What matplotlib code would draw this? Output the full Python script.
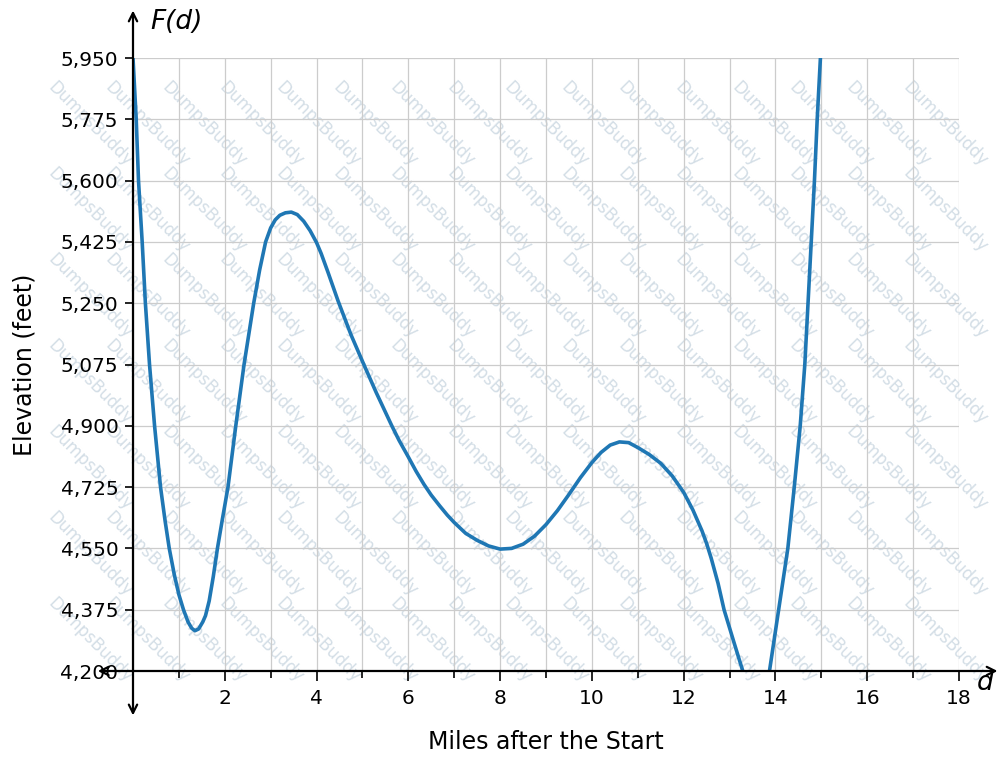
import matplotlib
matplotlib.use("Agg")
import matplotlib.pyplot as plt
from matplotlib.patches import FancyArrowPatch
from matplotlib.ticker import MultipleLocator, StrMethodFormatter

# miles after the start
miles = [0.0, 0.07, 0.12, 0.2, 0.27, 0.36, 0.47, 0.6, 0.7, 0.79, 0.9, 1.0,
         1.1, 1.2, 1.28, 1.35, 1.43, 1.52, 1.58, 1.66, 1.75, 1.84, 1.95, 2.07,
         2.24, 2.42, 2.63, 2.76, 2.89, 3.0, 3.1, 3.2, 3.32, 3.45, 3.58, 3.72,
         3.86, 4.0, 4.1, 4.25, 4.47, 4.75, 5.03, 5.3, 5.64, 5.8, 6.0, 6.17,
         6.34, 6.5, 6.68, 6.85, 7.0, 7.25, 7.5, 7.75, 8.0, 8.25, 8.5, 8.75,
         9.0, 9.25, 9.5, 9.75, 10.0, 10.2, 10.4, 10.6, 10.8, 11.0, 11.25, 11.5,
         11.75, 12.0, 12.2, 12.4, 12.5, 12.6, 12.75, 12.88, 13.1, 13.3, 13.45, 13.58,
         13.72, 13.87, 14.07, 14.27, 14.41, 14.54, 14.64, 14.71, 14.78, 14.85, 14.91, 14.98]
# elevation in feet at those points
elevation = [5950, 5775, 5600, 5425, 5250, 5075, 4900, 4725, 4628, 4550, 4475, 4418,
             4375, 4340, 4322, 4315, 4320, 4340, 4358, 4400, 4470, 4550, 4635, 4725,
             4900, 5075, 5250, 5345, 5425, 5465, 5488, 5501, 5508, 5510, 5503, 5484,
             5457, 5423, 5392, 5338, 5256, 5160, 5075, 4995, 4900, 4858, 4811, 4770,
             4733, 4702, 4672, 4645, 4624, 4593, 4573, 4557, 4548, 4550, 4562, 4585,
             4618, 4658, 4704, 4752, 4795, 4824, 4845, 4854, 4852, 4838, 4818, 4793,
             4757, 4710, 4660, 4600, 4564, 4522, 4450, 4375, 4280, 4195, 4145, 4125,
             4140, 4200, 4375, 4550, 4725, 4900, 5075, 5250, 5425, 5600, 5775, 5950]

x_ticks = [2, 4, 6, 8, 10, 12, 14, 16, 18]
y_ticks = [4200, 4375, 4550, 4725, 4900, 5075, 5250, 5425, 5600, 5775, 5950]

W, H = 1007, 761
WATERMARK = "DumpsBuddy"


def add_watermark(fig):
    # tiled diagonal watermark behind the plot, only copies that fit the canvas
    marks = []
    for i in range(-2, 19):
        for j in range(-1, 10):
            px = i * 57
            py = -8 + j * 86
            marks.append(fig.text(px / W, 1 - py / H, WATERMARK, fontsize=12,
                                  color="#c5d3de", rotation=-45, rotation_mode="anchor",
                                  ha="left", va="top", zorder=0.5, alpha=0.75))
    fig.canvas.draw()
    renderer = fig.canvas.get_renderer()
    for t in marks:
        bb = t.get_window_extent(renderer)
        if bb.x0 < 1 or bb.y0 < 1 or bb.x1 > W - 1 or bb.y1 > H - 1:
            t.remove()


def add_axis_arrows(ax):
    style = dict(arrowstyle="<->", mutation_scale=15, lw=1.6, color="black",
                 transform=ax.transAxes, clip_on=False, zorder=5)
    ax.add_patch(FancyArrowPatch((0, -0.077), (0, 1.082), **style))
    ax.add_patch(FancyArrowPatch((-0.046, 0), (1.05, 0), **style))


def main():
    fig = plt.figure(figsize=(W / 100, H / 100), dpi=100)
    ax = fig.add_axes([133 / W, 90 / H, 826 / W, 613 / H])
    ax.set_zorder(1)
    ax.patch.set_alpha(0)

    ax.plot(miles, elevation, color="#1f77b4", linewidth=2.6, zorder=3,
            solid_joinstyle="round")

    ax.set_xlim(0, 18)
    ax.set_ylim(4200, 5950)
    ax.set_xticks(x_ticks)
    ax.set_yticks(y_ticks)
    ax.xaxis.set_minor_locator(MultipleLocator(1))
    ax.yaxis.set_major_formatter(StrMethodFormatter("{x:,.0f}"))

    ax.tick_params(axis="x", which="major", length=7, width=1.2, labelsize=14.5, pad=6)
    ax.tick_params(axis="x", which="minor", length=5, width=1.2)
    ax.tick_params(axis="y", which="major", length=5.5, width=1.2, labelsize=14.5, pad=5)

    ax.grid(which="both", axis="x", color="#cccccc", linewidth=0.9)
    ax.grid(which="major", axis="y", color="#cccccc", linewidth=0.9)
    ax.set_axisbelow(True)

    for side in ["left", "right", "top", "bottom"]:
        ax.spines[side].set_visible(False)
    add_axis_arrows(ax)

    ax.set_xlabel("Miles after the Start", fontsize=17, labelpad=16)
    ax.set_ylabel("Elevation (feet)", fontsize=17, labelpad=17)
    ax.text(0.021, 1.058, "F(d)", transform=ax.transAxes, fontsize=19,
            style="italic", ha="left", va="center")
    ax.text(1.021, -0.02, "d", transform=ax.transAxes, fontsize=19,
            style="italic", ha="left", va="center")

    add_watermark(fig)

    fig.savefig("out.png", dpi=100)
    plt.close(fig)


if __name__ == "__main__":
    main()
